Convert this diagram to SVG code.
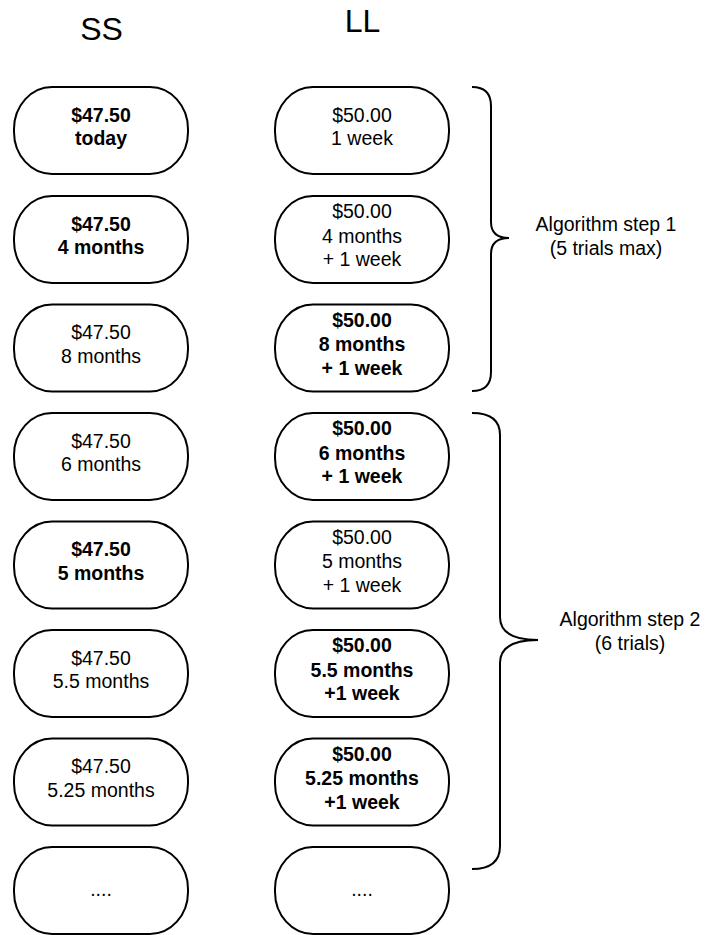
<svg xmlns="http://www.w3.org/2000/svg" width="707" height="935" viewBox="0 0 707 935">
<style>
.box{fill:#fff;stroke:#000;stroke-width:2}
text{font-family:"Liberation Sans",Arial,sans-serif;font-size:19.5px;fill:#000;text-anchor:middle}
.b{font-weight:bold}
.title{font-size:32px}
.br{fill:none;stroke:#000;stroke-width:2}
</style>
<rect width="707" height="935" fill="#fff"/>
<text class="title" x="101.5" y="40">SS</text>
<text class="title" x="362.5" y="32">LL</text>

<g id="ss1"><rect class="box" x="14" y="87" width="174" height="87" rx="38" ry="42"/>
<text class="b" x="101" y="121.5">$47.50</text><text class="b" x="101" y="145">today</text></g>
<g id="ss2"><rect class="box" x="14" y="196" width="174" height="87" rx="38" ry="42"/>
<text class="b" x="101" y="230.5">$47.50</text><text class="b" x="101" y="254">4 months</text></g>
<g id="ss3"><rect class="box" x="14" y="304.5" width="174" height="87" rx="38" ry="42"/>
<text x="101" y="339">$47.50</text><text x="101" y="362.5">8 months</text></g>
<g id="ss4"><rect class="box" x="14" y="413" width="174" height="87" rx="38" ry="42"/>
<text x="101" y="447.5">$47.50</text><text x="101" y="471">6 months</text></g>
<g id="ss5"><rect class="box" x="14" y="521.5" width="174" height="87" rx="38" ry="42"/>
<text class="b" x="101" y="556">$47.50</text><text class="b" x="101" y="579.5">5 months</text></g>
<g id="ss6"><rect class="box" x="14" y="630" width="174" height="87" rx="38" ry="42"/>
<text x="101" y="664.5">$47.50</text><text x="101" y="688">5.5 months</text></g>
<g id="ss7"><rect class="box" x="14" y="738.5" width="174" height="87" rx="38" ry="42"/>
<text x="101" y="773">$47.50</text><text x="101" y="796.5">5.25 months</text></g>
<g id="ss8"><rect class="box" x="14" y="847" width="174" height="87" rx="38" ry="42"/>
<text x="101" y="896">....</text></g>

<g id="ll1"><rect class="box" x="275" y="87" width="174" height="87" rx="38" ry="42"/>
<text x="362" y="121.5">$50.00</text><text x="362" y="145">1 week</text></g>
<g id="ll2"><rect class="box" x="275" y="196" width="174" height="87" rx="38" ry="42"/>
<text x="362" y="218">$50.00</text><text x="362" y="242.5">4 months</text><text x="362" y="266">+ 1 week</text></g>
<g id="ll3"><rect class="box" x="275" y="304.5" width="174" height="87" rx="38" ry="42"/>
<text class="b" x="362" y="326.5">$50.00</text><text class="b" x="362" y="351">8 months</text><text class="b" x="362" y="374.5">+ 1 week</text></g>
<g id="ll4"><rect class="box" x="275" y="413" width="174" height="87" rx="38" ry="42"/>
<text class="b" x="362" y="435">$50.00</text><text class="b" x="362" y="459.5">6 months</text><text class="b" x="362" y="483">+ 1 week</text></g>
<g id="ll5"><rect class="box" x="275" y="521.5" width="174" height="87" rx="38" ry="42"/>
<text x="362" y="543.5">$50.00</text><text x="362" y="568">5 months</text><text x="362" y="591.5">+ 1 week</text></g>
<g id="ll6"><rect class="box" x="275" y="630" width="174" height="87" rx="38" ry="42"/>
<text class="b" x="362" y="652">$50.00</text><text class="b" x="362" y="676.5">5.5 months</text><text class="b" x="362" y="700">+1 week</text></g>
<g id="ll7"><rect class="box" x="275" y="738.5" width="174" height="87" rx="38" ry="42"/>
<text class="b" x="362" y="760.5">$50.00</text><text class="b" x="362" y="785">5.25 months</text><text class="b" x="362" y="808.5">+1 week</text></g>
<g id="ll8"><rect class="box" x="275" y="847" width="174" height="87" rx="38" ry="42"/>
<text x="362" y="896">....</text></g>

<g id="brackets">
<path class="br" d="M472,87 Q491,87 491,106 L491,222 Q491,238 509,238 Q491,238 491,254 L491,372 Q491,391 472,391"/>
<path class="br" d="M472,413 Q500,413 500,435 L500,617 Q500,640 538,640 Q500,640 500,663 L500,846 Q500,869 472,869"/>
</g>
<g id="step1"><text x="606" y="231">Algorithm step 1</text><text x="606" y="254.5">(5 trials max)</text></g>
<g id="step2"><text x="630" y="626">Algorithm step 2</text><text x="630" y="650">(6 trials)</text></g>
</svg>
